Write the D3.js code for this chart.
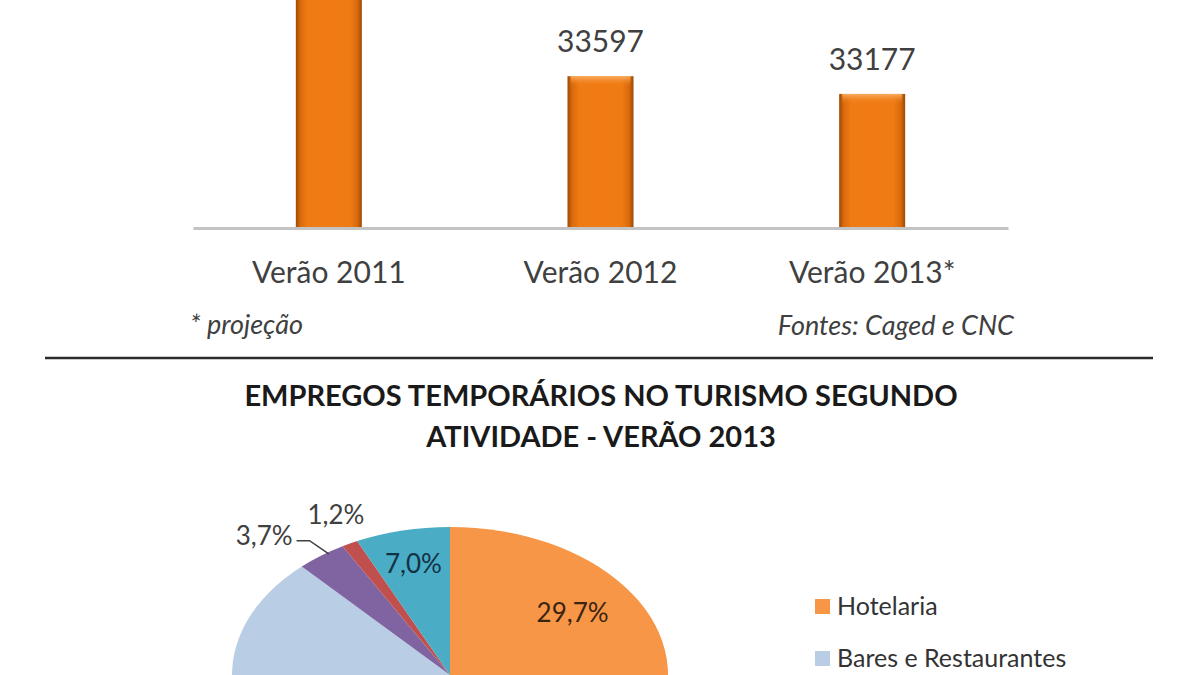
<!DOCTYPE html>
<html>
<head>
<meta charset="utf-8">
<script src="https://cdn.jsdelivr.net/npm/d3@7"></script>
<style>
  body { margin: 0; background: #fff; }
  svg { display: block; }
  text { font-family: Lato, "Open Sans", sans-serif; }
</style>
</head>
<body>
<div id="chart"></div>
<script>
// Bar chart data (top, cropped)
const barCategories = ["Verão 2011", "Verão 2012", "Verão 2013*"];
const barValues = [37800, 33597, 33177];
const barAxisDomain = [30000, 35000];

// Pie chart data (bottom, cropped)
const pieTitle = ["EMPREGOS TEMPORÁRIOS NO TURISMO SEGUNDO", "ATIVIDADE - VERÃO 2013"];
const pieCategories = ["Hotelaria", "Bares e Restaurantes", "Transportes", "Agências de Viagens", "Outros"];
const pieValues = [29.7, 58.4, 3.7, 1.2, 7.0];
const pieColors = ["#F79646", "#B9CDE5", "#8064A2", "#C0504D", "#4BACC6"];

const W = 1200, H = 675;
const ptBR = d3.formatLocale({ decimal: ",", thousands: ".", grouping: [3], currency: ["R$", ""] });
const pct = v => ptBR.format(".1f")(v) + "%";

const svg = d3.select("#chart").append("svg")
    .attr("width", W).attr("height", H)
    .attr("viewBox", `0 0 ${W} ${H}`);

svg.append("rect").attr("width", W).attr("height", H).attr("fill", "#fff");

const defs = svg.append("defs");
const barGrad = defs.append("linearGradient").attr("id", "barGrad")
    .attr("x1", "0").attr("x2", "1").attr("y1", "0").attr("y2", "0");
[[0, "#9c4a05"], [0.07, "#d96a0c"], [0.18, "#f07b14"], [0.82, "#f07b14"], [0.93, "#d96a0c"], [1, "#9c4a05"]]
    .forEach(([o, c]) => barGrad.append("stop").attr("offset", o).attr("stop-color", c));
const bevelGrad = defs.append("linearGradient").attr("id", "bevelGrad")
    .attr("x1", "0").attr("x2", "0").attr("y1", "0").attr("y2", "1");
bevelGrad.append("stop").attr("offset", 0).attr("stop-color", "#fbb36a").attr("stop-opacity", 0.9);
bevelGrad.append("stop").attr("offset", 1).attr("stop-color", "#f07b14").attr("stop-opacity", 0);

// ---- Bar chart ----
const baseY = 228;
const x = d3.scaleBand()
    .domain(barCategories)
    .range([193, 1008])
    .paddingInner(0.757)
    .paddingOuter(0.3785);

const y = d3.scaleLinear().domain(barAxisDomain).range([baseY, 17]);

const bars = svg.append("g");
bars.selectAll("rect.bar")
    .data(barValues)
    .join("rect")
    .attr("class", "bar")
    .attr("x", (d, i) => x(barCategories[i]))
    .attr("y", d => y(d))
    .attr("width", x.bandwidth())
    .attr("height", d => baseY - y(d))
    .attr("fill", "url(#barGrad)");

bars.selectAll("rect.bevel")
    .data(barValues)
    .join("rect")
    .attr("class", "bevel")
    .attr("x", (d, i) => x(barCategories[i]) + 3)
    .attr("y", d => y(d))
    .attr("width", x.bandwidth() - 6)
    .attr("height", 10)
    .attr("fill", "url(#bevelGrad)");

// baseline axis
svg.append("g")
    .attr("transform", `translate(0,${baseY})`)
    .call(d3.axisBottom(x).tickSize(0).tickPadding(0))
    .call(g => g.select(".domain").attr("stroke", "#c3c3c3").attr("stroke-width", 3))
    .call(g => g.selectAll(".tick text")
        .attr("y", 55)
        .attr("dy", 0)
        .attr("fill", "#404040")
        .style("font-family", "Lato, 'Open Sans', sans-serif")
        .style("font-size", "30px"));

bars.selectAll("text.value")
    .data(barValues)
    .join("text")
    .attr("class", "value")
    .attr("x", (d, i) => x(barCategories[i]) + x.bandwidth() / 2)
    .attr("y", d => y(d) - 24)
    .attr("text-anchor", "middle")
    .attr("fill", "#404040")
    .style("font-size", "30px")
    .text(d => d);

svg.append("text")
    .attr("x", 190).attr("y", 334)
    .attr("fill", "#404040")
    .style("font-size", "27px").style("font-style", "italic")
    .text("* projeção");

svg.append("text")
    .attr("x", 1014).attr("y", 335)
    .attr("text-anchor", "end")
    .attr("fill", "#404040")
    .style("font-size", "27px").style("font-style", "italic")
    .text("Fontes: Caged e CNC");

// separator
svg.append("line")
    .attr("x1", 45).attr("x2", 1153)
    .attr("y1", 358).attr("y2", 358)
    .attr("stroke", "#2b2b2b").attr("stroke-width", 2.5);

// ---- Pie chart ----
svg.append("g").selectAll("text")
    .data(pieTitle)
    .join("text")
    .attr("x", 601)
    .attr("y", (d, i) => 406 + i * 41)
    .attr("text-anchor", "middle")
    .attr("fill", "#1a1a1a")
    .style("font-size", "29px").style("font-weight", "bold")
    .text(d => d);

const cx = 450, cy = 675, ry = 148, rx = 218;
const k = rx / ry;

// label styling per slice: inside/outside, radius factor, angle shift (deg)
const labelPos = [
    { out: false, r: 0.70, shift: 0, color: "#3a2412" },
    { out: false, r: 0.60, shift: 0, color: "#2b3a4d" },
    { out: true, r: 1.27, shift: -6, color: "#404040", leader: true },
    { out: true, r: 1.20, shift: 1.5, color: "#404040" },
    { out: false, r: 0.77, shift: 0, color: "#123244" }
];

const pie = d3.pie().sort(null).value(d => d);
const arcs = pie(pieValues);
const arc = d3.arc().innerRadius(0).outerRadius(ry);

const pieG = svg.append("g").attr("transform", `translate(${cx},${cy})`);

pieG.append("g")
    .attr("transform", `scale(${k},1)`)
    .selectAll("path")
    .data(arcs)
    .join("path")
    .attr("d", arc)
    .attr("fill", (d, i) => pieColors[i]);

function pointAt(angle, rf) {
    return [Math.sin(angle) * rf * ry * k, -Math.cos(angle) * rf * ry];
}

const labels = pieG.append("g").selectAll("text")
    .data(arcs)
    .join("text")
    .each(function (d, i) {
        const s = labelPos[i];
        const mid = (d.startAngle + d.endAngle) / 2 + s.shift * Math.PI / 180;
        const [lx, ly] = pointAt(mid, s.r);
        d3.select(this)
            .attr("x", lx).attr("y", ly)
            .attr("dy", "0.35em")
            .attr("text-anchor", "middle")
            .attr("fill", s.color)
            .style("font-size", "26px")
            .text(pct(d.data));
    });

labels.each(function (d, i) {
    const s = labelPos[i];
    if (!s.leader) return;
    const t = d3.select(this);
    const w = this.getComputedTextLength();
    const lx = +t.attr("x"), ly = +t.attr("y");
    const mid = (d.startAngle + d.endAngle) / 2;
    const [ex, ey] = pointAt(mid + 2 * Math.PI / 180, 0.99);
    const sx = lx + w / 2 + 4, sy = ly + 5;
    pieG.append("path")
        .attr("d", d3.line()([[sx, sy], [sx + 13, sy], [ex, ey]]))
        .attr("fill", "none")
        .attr("stroke", "#404040")
        .attr("stroke-width", 1.5);
});

// legend
const legend = svg.append("g").attr("transform", "translate(815,599)");
const item = legend.selectAll("g")
    .data(pieCategories)
    .join("g")
    .attr("transform", (d, i) => `translate(0,${i * 52})`);
item.append("rect")
    .attr("width", 15).attr("height", 15)
    .attr("fill", (d, i) => pieColors[i]);
item.append("text")
    .attr("x", 22).attr("y", 16)
    .attr("fill", "#333")
    .style("font-size", "25px")
    .text(d => d);
</script>
</body>
</html>
